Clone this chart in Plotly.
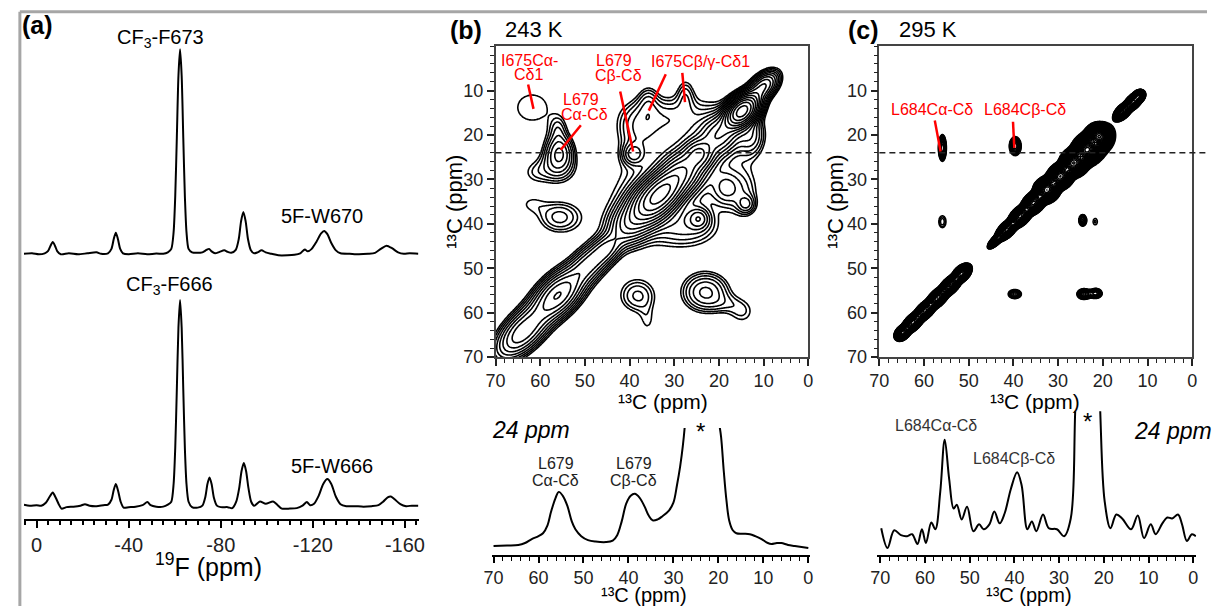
import numpy as np
import plotly.graph_objects as go

W, H = 1213, 616
def fx(px):
    return px / W
def fy(py):
    return 1 - py / H

FONT = "Liberation Sans, Arial, sans-serif"

# ---------------- (a) 19F spectra: ppm and intensity above baseline ----------------
a_top_ppm = [5.5, 2, -1, -3.5, -5, -6, -7, -8, -9, -10.5, -14, -18, -22, -26, -28, -31, -32.5, -33.5,
             -34.4, -35.3, -36.3, -37.5, -40, -44, -48, -52, -55, -57, -58.5, -59.5, -60.2, -60.9,
             -61.6, -62.3, -63.0, -63.7, -64.4, -65.1, -66, -67.5, -69.5, -72, -73.8, -74.9, -76,
             -77.5, -79.5, -81.5, -83, -84.5, -86.5, -87.8, -88.8, -89.8, -90.8, -91.8, -93, -94.5,
             -96, -97.7, -99.5, -102, -105, -109, -112, -114.5, -116.5, -117.7, -119.5, -121.5,
             -123.5, -124.9, -126.3, -128, -130, -132, -136, -140, -144, -147, -149.5, -152, -154.5,
             -157, -159.5, -162, -165.8]
a_top_int = [0, 0.5, -0.5, 0.5, 3, 8, 12, 8, 2.5, -0.5, 0.5, -0.5, 0.5, 1.5, 0, 0.5, 5, 15,
             21.5, 15, 5, 0.5, -0.5, 0.5, -0.5, 0.3, 0, 1.5, 5, 22, 58, 118,
             181, 208, 181, 118, 58, 22, 5, 1.5, 1, 1.5, 4, 5, 2.5,
             0.5, 2, 3.5, 2, 1, 4, 15, 33, 42.5, 33, 15, 4, 0.5,
             1.5, 3.5, 1.5, 0, -1.5, -1.5, -1, 0.5, 4.5, 2.5, 5, 12,
             20.5, 23.3, 20, 11, 3.5, 0.5, 0, -0.5, 0, 1, 5, 8.3, 5.5,
             1.5, 0, 0.5, 0]
a_bot_ppm = [5.5, 3, 0, -2, -4, -5.5, -7, -8.3, -9.6, -10.8, -13, -16, -19, -21, -23, -26, -29, -31,
             -32.5, -33.5, -34.4, -35.4, -36.5, -37.8, -40, -43, -46, -48.1, -49.5, -52, -55, -57,
             -58.5, -59.5, -60.2, -60.9, -61.6, -62.3, -63.0, -63.7, -64.4, -65.1, -66, -67.5, -70,
             -72, -73.3, -74.2, -75.1, -76, -77, -78.3, -80, -83, -85, -86.7, -88, -89, -90, -91,
             -92, -93.2, -94.5, -97, -99.5, -102.7, -104.5, -106.5, -110, -113, -115.5, -117.4,
             -118.8, -120.5, -122.5, -124.5, -126.3, -128, -130, -132, -134.5, -138, -142, -145.5,
             -148.5, -150.5, -152.5, -153.9, -155.5, -158, -160.5, -163, -165.8]
a_bot_int = [1, 0, 0.5, 0, 3, 8.5, 13.3, 8, 1.5, -3, -1.5, -1, 0, 1.5, 0, -0.5, 0.5, 1,
             6, 16, 22, 15, 4, -2, -1.5, -1, 0.5, 3.7, 0.5, -1, -1, 1,
             4, 22, 58, 118, 181, 209, 181, 118, 58, 22, 4, -1.5, -2,
             0, 9, 22, 28.7, 22, 8, 0, -1.5, -1.5, -2.5, 4, 18, 35, 43.3, 35,
             18, 4, 0, 4.3, 2, 4.3, 1, -3, -3, -2.5, 0, 3.7,
             0.5, 2, 10, 22, 27, 22, 9, 1.5, -0.5, -0.5, -1, -0.5,
             0.5, 4, 8.5, 9.3, 6.5, 1.5, -0.5, 0, 0]
a_tick_vals = [0, -40, -80, -120, -160]
a_tick_text = ["0", "-40", "-80", "-120", "-160"]

# ---------------- (b) 243 K 2D spectrum: peak table read from the map ----------------
# columns: x ppm, y ppm, amplitude, width along axis a, width along axis b, axis angle (deg)
b_peak_x   = [64, 56, 49, 45, 40, 36, 32.6, 28, 24.5, 20, 14.8, 10, 30, 57,
              39.2, 35.8, 27.5, 32, 38, 24.5, 13.9, 18.5, 27, 13, 14.5,
              61.8, 55.7, 56.5, 56, 61.5, 55.7, 62, 38.2, 36, 23.0, 14.8, 18.5]
b_peak_y   = [64.5, 56, 49, 45.5, 40, 36, 32.8, 28, 24.2, 20, 14.6, 9, 29, 57,
              24.3, 12.5, 11, 16, 19, 38.8, 35.6, 32, 41, 20, 33,
              13.8, 23.8, 27.5, 18.5, 28.5, 38.5, 35.5, 56.2, 62, 55.4, 59.8, 58]
b_peak_amp = [7, 9, 4.5, 3.5, 6, 12, 28, 12, 10, 9, 45, 8, 2.5, 1.5,
              3, 1.5, 1.5, 2.0, 2, 3, 2.0, 2.2, 1.8, 3, 1.5,
              1.25, 4.5, 2.0, 1.4, 0.9, 2.4, 1.0, 2.3, 1.0, 4, 1.3, 0.8]
b_peak_wa  = [4.5, 4, 3.5, 2.5, 3, 3, 3.5, 3, 2, 3, 2.5, 2.5, 12, 9,
              1.5, 1.5, 1.3, 6, 3, 1.5, 1.3, 2, 5, 2, 2.5,
              4.8, 2.0, 3.0, 1.3, 2.2, 3.2, 2.5, 2.8, 1.5, 3.3, 2.2, 2.5]
b_peak_wb  = [2.3, 2.3, 2.0, 1.7, 2.5, 2.5, 2.2, 2.5, 2, 2.5, 1.6, 1.5, 7, 3.2,
              1.5, 2.5, 2.5, 3, 4, 1.5, 1.3, 2.5, 3, 3, 4,
              4.2, 2.6, 2.5, 2.0, 2.0, 2.4, 1.8, 2.6, 2.5, 2.8, 2.2, 1.5]
b_peak_ang = [45, 45, 45, 45, 45, 45, 45, 45, 0, 45, 45, 45, 45, 45,
              0, 0, 0, 0, 0, 0, 0, 0, 0, 0, 0,
              0, 0, 0, 0, 0, 0, 0, 0, 0, 0, 0, 0]

# ---------------- (c) 295 K 2D spectrum: peak table ----------------
c_peak_x   = [64.8, 62.5, 59.8, 57, 54.2, 51.6, 44, 41.5, 38.5, 35.5, 32.5, 29.5, 26.5, 23.5,
              20.8, 22.5, 15.5, 13.2, 11.9,
              55.9, 39.6, 55.9, 24.5, 21.7, 39.7, 24.3, 21.5, 23, 34.7]
c_peak_y   = [64.5, 62.2, 59.5, 56.7, 53.9, 51.2, 43.8, 41.3, 38.3, 35.3, 32.3, 29.3, 26.3, 23.3,
              20.3, 22.5, 14.7, 12.5, 11.2,
              22.9, 22.5, 39.5, 39.2, 39.5, 55.8, 55.8, 55.6, 55.8, 31.4]
c_peak_amp = [60, 70, 80, 100, 90, 70, 20, 60, 80, 80, 100, 100, 100, 100,
              70, 10, 50, 60, 40,
              6, 5, 1.5, 3, 1.2, 3, 4, 3, 2, 1.1]
c_peak_wa  = [0.8, 1.2, 1.2, 1.2, 1.2, 1.0, 1.0, 1.2, 1.2, 1.2, 1.2, 1.2, 1.2, 1.2,
              1.0, 3.0, 1.0, 1.0, 0.6,
              0.48, 0.75, 0.9, 0.6, 0.8, 1.0, 0.8, 0.8, 1.5, 0.4]
c_peak_wb  = [0.55, 0.6, 0.6, 0.6, 0.6, 0.6, 0.4, 0.6, 0.7, 0.8, 1.0, 1.0, 1.1, 1.1,
              1.1, 1.7, 0.55, 0.55, 0.5,
              1.6, 1.2, 1.5, 0.9, 1.2, 0.7, 0.7, 0.7, 0.6, 0.4]
c_peak_ang = [45, 45, 45, 45, 45, 45, 45, 45, 45, 45, 45, 45, 45, 45,
              45, 45, 45, 45, 45,
              0, 0, 0, 0, 0, 0, 0, 0, 0, 0]

# ---------------- 1D slices at 24 ppm ----------------
b_slice_ppm = [70, 67, 64.5, 63, 61.5, 60, 59, 58, 57.2, 56.2, 55.5, 54.6, 53.6, 52.6, 51.8, 50.5,
               49, 47.3, 45, 43.5, 42.5, 41.5, 40.5, 39.5, 38.6, 37.5, 36.4, 35.5, 34.6, 33.5,
               32.5, 31, 30, 29.2, 28.5, 27.9, 27.4, 26, 24, 22, 20, 19.4, 18.8, 18.2, 17.6,
               16.8, 16, 14.5, 13, 11.8, 10.4, 9, 8.2, 7, 6, 4.5, 3, 1.5, 0]
b_slice_int = [9, 9.5, 10, 12, 16, 19, 22, 30, 44, 58, 64, 60, 50, 34, 26, 19,
               15, 13.5, 13, 14.5, 20, 34, 52, 60, 62, 58, 49, 40, 35, 36,
               39, 45, 53, 71, 90, 111, 135, 250, 320, 250, 140, 120, 85, 55, 35,
               25, 22, 21.5, 21, 19, 16, 12, 11, 12, 12, 10, 9, 8, 7]
c_slice_ppm = [69.8, 68.4, 66.9, 65.4, 64.0, 62.9, 61.7, 60.7, 59.8, 58.6, 57.7, 56.6, 55.6, 54.6,
               53.6, 52.9, 51.8, 50.6, 49.2, 47.9, 46.9, 45.6, 44.5, 43.3, 42.2, 40.8, 39.4, 38.4,
               37.1, 36.1, 35.1, 33.6, 32.3, 30.5, 28.9, 27.4, 26.4, 25.5, 23.5, 21.5, 20.8, 19.8,
               18.5, 17.2, 15.9, 13.9, 12.4, 11.0, 9.5, 8.4, 6.9, 5.8, 4.7, 3.4, 2.5, 1.4, 0.3, -0.6]
c_slice_int = [27, 7, 25, 20, 19, 21, 11, 26, 12, 33, 26, 64, 117, 77,
               47, 51, 36, 49, 24, 31, 26, 31, 44, 32, 42, 67, 84, 71,
               26, 34, 24, 41, 27, 26, 19, 37, 146, 260, 320, 260, 146, 54,
               27, 41, 37, 26, 40, 17, 31, 21, 32, 38, 37, 41, 31, 14, 21, 19]

c13_ticks = [70, 60, 50, 40, 30, 20, 10, 0]


def surface(xs, ys, amps, was, wbs, angs, step):
    g = np.arange(-2.0, 72.0 + step / 2, step)
    X, Y = np.meshgrid(g, g)
    Z = np.zeros_like(X)
    for x0, y0, a, sa, sb, th in zip(xs, ys, amps, was, wbs, angs):
        t = np.deg2rad(th)
        dx = X - x0
        dy = Y - y0
        u = dx * np.cos(t) + dy * np.sin(t)
        v = -dx * np.sin(t) + dy * np.cos(t)
        Z += a * np.exp(-0.5 * ((u / sa) ** 2 + (v / sb) ** 2))
    L = np.clip(np.log(Z + 1e-4), -1.0, None)
    return g, np.round(L, 3)


LN_B = float(np.log(1.3))
LN_C = float(np.log(1.16))

fig = go.Figure()

A_TOP_BASE, A_BOT_BASE = 270, 14
fig.add_trace(go.Scatter(x=a_top_ppm, y=[v + A_TOP_BASE for v in a_top_int], mode="lines",
                         line=dict(color="black", width=2, shape="spline", smoothing=0.7),
                         xaxis="x", yaxis="y", hoverinfo="skip"))
fig.add_trace(go.Scatter(x=a_bot_ppm, y=[v + A_BOT_BASE for v in a_bot_int], mode="lines",
                         line=dict(color="black", width=2, shape="spline", smoothing=0.7),
                         xaxis="x", yaxis="y", hoverinfo="skip"))

gb, Lb = surface(b_peak_x, b_peak_y, b_peak_amp, b_peak_wa, b_peak_wb, b_peak_ang, 0.25)
fig.add_trace(go.Contour(x=gb, y=gb, z=Lb, xaxis="x2", yaxis="y2", autocontour=False,
                         contours=dict(start=0, end=LN_B * 24, size=LN_B, coloring="none"),
                         line=dict(color="black", width=1.6), showscale=False, hoverinfo="skip"))
gc, Lc = surface(c_peak_x, c_peak_y, c_peak_amp, c_peak_wa, c_peak_wb, c_peak_ang, 0.2)
fig.add_trace(go.Contour(x=gc, y=gc, z=Lc, xaxis="x3", yaxis="y3", autocontour=False,
                         contours=dict(start=0, end=LN_C * 40, size=LN_C, coloring="none"),
                         line=dict(color="black", width=1.5), showscale=False, hoverinfo="skip"))

fig.add_trace(go.Scatter(x=b_slice_ppm, y=b_slice_int, mode="lines",
                         line=dict(color="black", width=2, shape="spline", smoothing=1),
                         xaxis="x4", yaxis="y4", hoverinfo="skip"))
fig.add_trace(go.Scatter(x=c_slice_ppm, y=c_slice_int, mode="lines",
                         line=dict(color="black", width=2, shape="spline", smoothing=1),
                         xaxis="x5", yaxis="y5", hoverinfo="skip"))

tickfont = dict(family=FONT, size=18, color="#222")
slicefont = dict(family=FONT, size=18, color="#222")


def box_axis(dom, rng, anchor, tickvals):
    return dict(domain=dom, range=rng, anchor=anchor, showgrid=False, zeroline=False,
                showline=True, mirror=True, linecolor="#444", linewidth=1.5,
                ticks="outside", ticklen=7, tickwidth=1.5, tickcolor="#222",
                tickmode="array", tickvals=tickvals, tickfont=tickfont,
                minor=dict(dtick=2, tick0=0, ticks="outside", ticklen=4, tickwidth=1.2,
                           tickcolor="#222"))


def slice_axis(dom, rng, anchor):
    return dict(domain=dom, range=rng, anchor=anchor, showgrid=False, zeroline=False,
                showline=True, linecolor="black", linewidth=2,
                ticks="outside", ticklen=6, tickwidth=1.5, tickcolor="black",
                tickmode="array", tickvals=c13_ticks, tickfont=slicefont,
                minor=dict(dtick=2, tick0=0, ticks="outside", ticklen=4, tickwidth=1.2,
                           tickcolor="black"))


hidden = dict(visible=False, showgrid=False, zeroline=False)

layout = dict(
    width=W, height=H, autosize=False, margin=dict(l=0, r=0, t=0, b=0),
    paper_bgcolor="white", plot_bgcolor="white", showlegend=False, hovermode=False,
    font=dict(family=FONT, color="black"),
    xaxis=dict(domain=[fx(14), fx(414)], range=[5.57, -165.9], anchor="y", showgrid=False,
               zeroline=False, showline=True, linecolor="black", linewidth=2,
               ticks="outside", ticklen=7, tickwidth=1.5, tickcolor="black",
               tickmode="array", tickvals=a_tick_vals, ticktext=a_tick_text,
               tickfont=dict(family=FONT, size=20, color="#222"),
               minor=dict(dtick=5, tick0=0, ticks="outside", ticklen=4, tickwidth=1.5,
                          tickcolor="black")),
    yaxis=dict(domain=[fy(528), fy(40)], range=[0, 488], anchor="x", **hidden),
    xaxis2=box_axis([fx(492), fx(809)], [70, 0], "y2", c13_ticks),
    yaxis2=box_axis([fy(363), fy(47)], [70, 0], "x2", [10, 20, 30, 40, 50, 60, 70]),
    xaxis3=box_axis([fx(881), fx(1198)], [70, 0], "y3", c13_ticks),
    yaxis3=box_axis([fy(363), fy(47)], [70, 0], "x3", [10, 20, 30, 40, 50, 60, 70]),
    xaxis4=slice_axis([fx(488), fx(811)], [70.44, -0.44], "y4"),
    yaxis4=dict(domain=[fy(564), fy(435)], range=[0, 129], anchor="x4", **hidden),
    xaxis5=slice_axis([fx(879), fx(1202)], [70.66, -0.66], "y5"),
    yaxis5=dict(domain=[fy(564), fy(418)], range=[0, 146], anchor="x5", **hidden),
)
fig.update_layout(**layout)

ann = []


def txt(text, px, py, size, color="black", xanchor="center", angle=0):
    ann.append(dict(text=text, x=fx(px), y=fy(py), xref="paper", yref="paper",
                    showarrow=False, xanchor=xanchor, yanchor="middle", textangle=angle,
                    font=dict(family=FONT, size=size, color=color)))


TITLE13 = "\u00b9\u00b3C (ppm)"
txt("<b>(a)</b>", 28, 25, 25)
txt("CF<sub>3</sub>-F673", 153, 39, 20)
txt("5F-W670", 316, 220, 20)
txt("CF<sub>3</sub>-F666", 162, 290, 20)
txt("5F-W666", 326, 474, 20)
txt("<sup>19</sup>F (ppm)", 201, 574, 25)
txt("<b>(b)</b>", 462, 30, 25)
txt("243 K", 531, 30, 22)
RED = "#ff0000"
txt("I675Cα-", 526, 61, 16, RED)
txt("Cδ1", 525, 76, 16, RED)
txt("L679", 579, 101, 16, RED)
txt("Cα-Cδ", 582, 116, 16, RED)
txt("L679", 612, 61, 16, RED)
txt("Cβ-Cδ", 617, 77, 16, RED)
txt("I675Cβ/γ-Cδ1", 700, 63, 16, RED)
txt(TITLE13, 662, 408, 21)
txt(TITLE13, 451, 205, 22, angle=-90)
txt("<i>24 ppm</i>", 528, 437, 23)
txt("*", 700, 439, 24)
txt("L679", 553, 471, 16, "#222")
txt("Cα-Cδ", 553, 488, 16, "#222")
txt("L679", 632, 471, 16, "#222")
txt("Cβ-Cδ", 632, 488, 16, "#222")
txt(TITLE13, 642, 605, 20)
txt("<b>(c)</b>", 865, 30, 25)
txt("295 K", 930, 30, 22)
txt("L684Cα-Cδ", 934, 111, 16, RED)
txt("L684Cβ-Cδ", 1029, 111, 16, RED)
txt(TITLE13, 1039, 408, 21)
txt(TITLE13, 837, 205, 22, angle=-90)
txt("L684Cα-Cδ", 938, 433, 16, "#333")
txt("L684Cβ-Cδ", 1017, 466, 16, "#333")
txt("*", 1092, 428, 24)
txt("<i>24 ppm</i>", 1137, 438, 23, xanchor="left")
txt(TITLE13, 1033, 605, 20)

shapes = []
shapes.append(dict(type="line", xref="paper", yref="paper", x0=fx(10), y0=fy(12), x1=1.0, y1=fy(12),
                   line=dict(color="#a6a6a6", width=3)))
shapes.append(dict(type="line", xref="paper", yref="paper", x0=fx(10), y0=fy(12), x1=fx(10), y1=0,
                   line=dict(color="#a6a6a6", width=3)))
shapes.append(dict(type="line", xref="paper", yref="y2", x0=fx(492), x1=fx(815), y0=24, y1=24,
                   line=dict(color="#222", width=1.5, dash="6px,4px")))
shapes.append(dict(type="line", xref="paper", yref="y3", x0=fx(881), x1=1.0, y0=24, y1=24,
                   line=dict(color="#222", width=1.5, dash="6px,4px")))
for (x0, y0, x1, y1) in [(62.7, 8.6, 61.5, 14.1), (50.9, 17.8, 55.4, 23.3), (42.1, 10.2, 39.2, 23.7),
                         (31.9, 6.3, 35.7, 14.5), (28.2, 6.0, 27.6, 12.6)]:
    shapes.append(dict(type="line", xref="x2", yref="y2", x0=x0, y0=y0, x1=x1, y1=y1,
                       line=dict(color=RED, width=2.5)))
for (x0, y0, x1, y1) in [(57.6, 16.7, 56.3, 23.7), (40.1, 17.0, 39.8, 22.9)]:
    shapes.append(dict(type="line", xref="x3", yref="y3", x0=x0, y0=y0, x1=x1, y1=y1,
                       line=dict(color=RED, width=2.5)))

fig.update_layout(annotations=ann, shapes=shapes)
fig.write_html("out.html")
